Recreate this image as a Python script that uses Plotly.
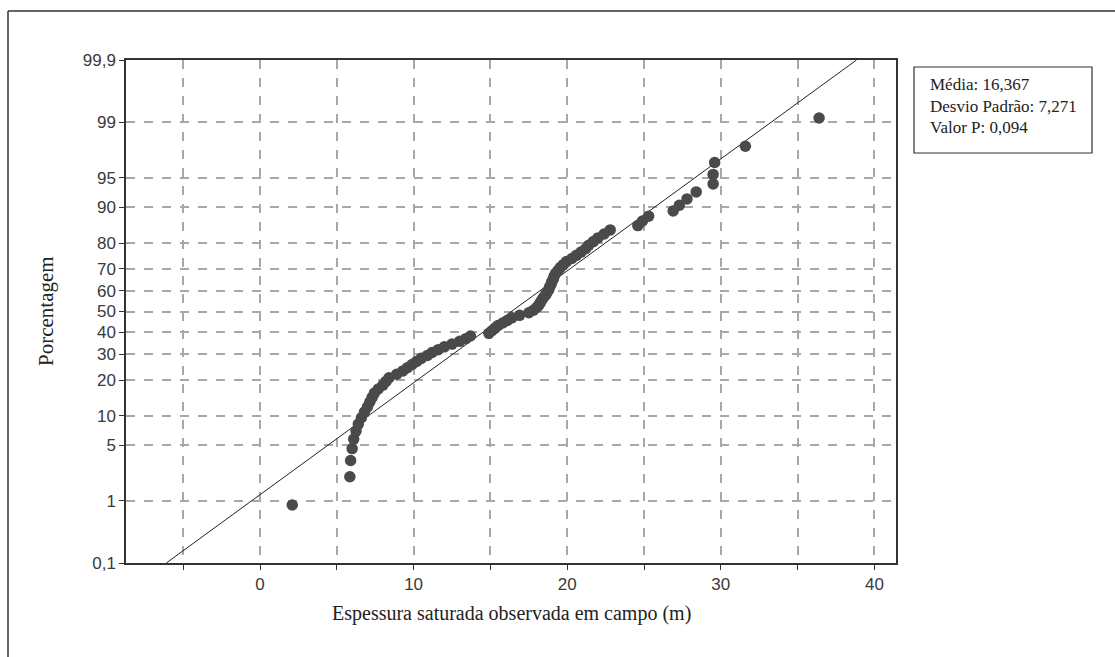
import plotly.graph_objects as go
from statistics import NormalDist

# ---- data ----
espessura = [
    2.1, 5.85, 5.9, 6.0, 6.1, 6.25, 6.4, 6.6, 6.8, 7.0,
    7.15, 7.3, 7.45, 7.7, 8.0, 8.2, 8.4, 8.9, 9.3, 9.6,
    9.9, 10.2, 10.5, 10.9, 11.2, 11.6, 12.0, 12.5, 13.0, 13.4,
    13.7, 14.9, 15.1, 15.3, 15.5, 15.8, 16.1, 16.4, 16.9, 17.5,
    17.8, 18.0, 18.15, 18.25, 18.35, 18.45, 18.6, 18.7, 18.8, 18.85,
    18.95, 19.0, 19.1, 19.15, 19.25, 19.4, 19.55, 19.75, 19.95, 20.3,
    20.6, 20.9, 21.2, 21.4, 21.7, 22.0, 22.4, 22.8, 24.6, 24.9,
    25.3, 26.9, 27.3, 27.8, 28.4, 29.5, 29.5, 29.6, 31.6, 36.4,
]
media = 16.367
desvio = 7.271
valor_p = 0.094

y_tick_pct = [0.1, 1, 5, 10, 20, 30, 40, 50, 60, 70, 80, 90, 95, 99, 99.9]
y_tick_text = ["0,1", "1", "5", "10", "20", "30", "40", "50", "60", "70", "80", "90", "95", "99", "99,9"]
x_tick_vals = [-5, 0, 5, 10, 15, 20, 25, 30, 35, 40]
x_tick_text = ["", "0", "", "10", "", "20", "", "30", "", "40"]

nd = NormalDist()
n = len(espessura)
xs = sorted(espessura)
# median-rank plotting positions of the probability plot
pp = [(i + 1 - 0.3) / (n + 0.4) for i in range(n)]
ys = [nd.inv_cdf(p) for p in pp]

zlo = nd.inv_cdf(0.001)
zhi = nd.inv_cdf(0.999)
line_x = [media + desvio * zlo, media + desvio * zhi]
line_y = [zlo, zhi]

fig = go.Figure()
fig.add_trace(go.Scatter(x=line_x, y=line_y, mode="lines",
                         line=dict(color="#222222", width=1), hoverinfo="skip"))
fig.add_trace(go.Scatter(x=xs, y=ys, mode="markers",
                         marker=dict(color="#4a4a4a", size=11.5, line=dict(width=0))))

W, H = 1115, 657
L, R, T, B = 126, 896, 60, 563
pw, ph = R - L, B - T


def px(x):
    return (x - L) / pw


def py(y):
    return (B - y) / ph


axis_common = dict(showline=True, linecolor="#333333", linewidth=1.5, mirror=True,
                   showgrid=True, gridcolor="#a8a8a8", gridwidth=1.5, griddash="dash",
                   zeroline=False, ticks="outside", ticklen=5, tickcolor="#333333",
                   tickfont=dict(family="Liberation Sans", size=17, color="#3a3a3a"))

fig.update_layout(
    width=W, height=H,
    margin=dict(l=L, r=W - R, t=T, b=H - B),
    paper_bgcolor="white", plot_bgcolor="white",
    showlegend=False,
    xaxis=dict(range=[-134 / 15.36, 636 / 15.36], tickvals=x_tick_vals, ticktext=x_tick_text,
               **axis_common),
    yaxis=dict(range=[zlo, zhi], tickvals=[nd.inv_cdf(p / 100) for p in y_tick_pct],
               ticktext=y_tick_text, **axis_common),
    shapes=[
        dict(type="line", xref="paper", yref="paper", x0=px(8), x1=px(8), y0=py(11), y1=py(657),
             line=dict(color="#333333", width=1.5)),
        dict(type="line", xref="paper", yref="paper", x0=px(8), x1=px(1115), y0=py(11), y1=py(11),
             line=dict(color="#333333", width=1.5)),
        dict(type="rect", xref="paper", yref="paper", x0=px(914), x1=px(1092), y0=py(67), y1=py(153),
             line=dict(color="#333333", width=1.2), fillcolor="white"),
    ],
    annotations=[
        dict(xref="paper", yref="paper", x=px(511), y=py(613), text="Espessura saturada observada em campo (m)",
             showarrow=False, xanchor="center", yanchor="middle",
             font=dict(family="Liberation Serif", size=20, color="#222222")),
        dict(xref="paper", yref="paper", x=px(46), y=py(311), text="Porcentagem", textangle=-90,
             showarrow=False, xanchor="center", yanchor="middle",
             font=dict(family="Liberation Serif", size=21, color="#222222")),
        dict(xref="paper", yref="paper", x=px(928), y=py(85), text="Média: 16,367",
             showarrow=False, xanchor="left", yanchor="middle",
             font=dict(family="Liberation Serif", size=17, color="#222222")),
        dict(xref="paper", yref="paper", x=px(928), y=py(107), text="Desvio Padrão: 7,271",
             showarrow=False, xanchor="left", yanchor="middle",
             font=dict(family="Liberation Serif", size=17, color="#222222")),
        dict(xref="paper", yref="paper", x=px(928), y=py(128), text="Valor P: 0,094",
             showarrow=False, xanchor="left", yanchor="middle",
             font=dict(family="Liberation Serif", size=17, color="#222222")),
    ],
)

fig.write_html("out.html")
